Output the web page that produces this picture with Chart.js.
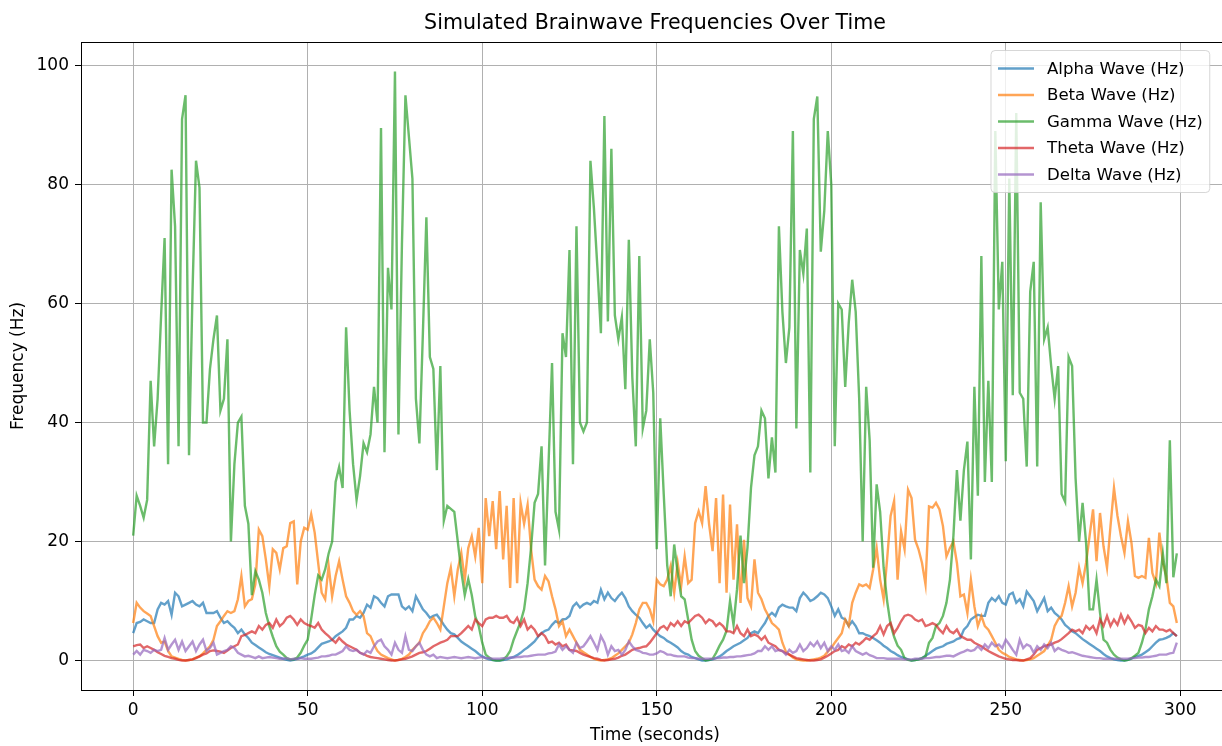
<!DOCTYPE html>
<html>
<head>
<meta charset="utf-8">
<title>Simulated Brainwave Frequencies Over Time</title>
<script src="https://cdn.jsdelivr.net/npm/chart.js@4.4.1/dist/chart.umd.min.js"></script>
<style>
  html, body { margin: 0; padding: 0; background: #fff; overflow: hidden; }
  #wrap { width: 1245px; height: 746px; }
</style>
</head>
<body>
<div id="wrap"><canvas id="brainChart" width="1245" height="746"></canvas></div>
<script>
"use strict";

// tick labels
const xTicks = [0, 50, 100, 150, 200, 250, 300];
const yTicks = [0, 20, 40, 60, 80, 100];

// värden, en punkt per sekund (0-299)
const alpha = [
  4.6, 6.3, 6.5, 6.9, 6.6, 6.3, 6.3, 8.6, 9.7, 9.4,
  10, 7.7, 11.4, 10.8, 9.1, 9.4, 9.7, 10, 9.4, 9.1,
  9.7, 8, 8, 8, 8.3, 7.2, 6.3, 6.6, 6, 5.5,
  4.6, 5.2, 4.4, 3.8, 3, 2.6, 2.2, 1.8, 1.4, 1.1,
  0.9, 0.7, 0.5, 0.3, 0.1, 0, 0.1, 0.3, 0.5, 0.7,
  1, 1.2, 1.6, 2.2, 2.8, 3, 3.2, 3.5, 4.1, 4.5,
  4.9, 5.5, 6.9, 6.9, 7.5, 7.2, 8, 9.4, 8.9, 10.8,
  10.5, 9.7, 9.1, 10.8, 11.1, 11.1, 11.1, 9.1, 8.6, 9.1,
  8.3, 10.8, 9.7, 8.6, 8, 7.2, 7.5, 7.7, 6.9, 6,
  5.2, 4.6, 4.4, 3.8, 3.2, 2.8, 2.4, 2, 1.6, 1.1,
  0.7, 0.4, 0.2, 0.1, 0, 0, 0.1, 0.2, 0.4, 0.6,
  0.9, 1.3, 1.8, 2.2, 2.7, 3.2, 4, 4.6, 5, 5.2,
  6, 6.6, 6.3, 6.9, 7, 7.5, 9.1, 9.7, 8.9, 9.4,
  9.7, 9.4, 10, 9.7, 11.9, 10.3, 11.4, 10.5, 10, 10.8,
  11.4, 10.5, 9.1, 8.3, 7.7, 7.2, 6.3, 5.5, 6, 5.2,
  4.6, 4.1, 3.8, 3.3, 3, 2.6, 2.2, 1.6, 1.2, 1,
  0.6, 0.4, 0.2, 0, 0, 0.1, 0.2, 0.4, 0.7, 1.1,
  1.6, 2, 2.4, 2.7, 3, 3.4, 3.8, 4.6, 4.9, 4.6,
  5.5, 6.3, 7.5, 8, 7.5, 8.9, 9.4, 9.1, 8.9, 8.9,
  8.3, 10.5, 11.4, 10.8, 10, 10.3, 10.8, 11.4, 11.1, 10.5,
  9.1, 7.5, 8.6, 7.2, 6.9, 5.8, 6.6, 5.8, 4.6, 4.6,
  4.3, 4.1, 3.8, 3.4, 3, 2.5, 2.1, 1.6, 1.3, 0.9,
  0.6, 0.4, 0.2, 0, 0.1, 0.2, 0.4, 0.8, 1.2, 1.6,
  2, 2.2, 2.4, 2.8, 3, 3.2, 3.6, 3.8, 5.2, 5.8,
  6.9, 7.3, 7.7, 7.5, 7.5, 9.7, 10.5, 10, 10.8, 9.7,
  9.4, 11.1, 11.4, 9.7, 10.3, 9.1, 11.6, 10.8, 10, 8.3,
  9.4, 10.5, 8.3, 8.9, 8, 7.5, 6.9, 6, 5.5, 4.9,
  4.6, 4.1, 3.6, 3.2, 2.8, 2.4, 2, 1.6, 1.1, 0.7,
  0.4, 0.2, 0.1, 0, 0, 0.1, 0.3, 0.6, 0.8, 1,
  1.4, 1.8, 2.4, 3, 3.5, 3.6, 3.8, 4.1, 4.6, 4.1
];

const beta = [
  6.3, 9.7, 8.9, 8.3, 7.9, 7.5, 5.8, 4.1, 3, 3.2,
  1.6, 0.7, 0.5, 0.3, 0.1, 0, 0.1, 0.2, 0.5, 0.7,
  1.2, 1.8, 2.4, 3.5, 5.8, 6.6, 7.5, 8.3, 8, 8.3,
  10.3, 14.2, 9.1, 10, 10.3, 12.8, 22, 20.9, 17, 12.5,
  18.7, 18.1, 15.3, 18.9, 19.2, 23.1, 23.4, 12.8, 20, 22.3,
  22, 24.6, 21.5, 16.4, 11.4, 10.3, 15.9, 10.8, 14.2, 16.7,
  13.6, 10.8, 9.7, 8.3, 7.7, 8.3, 7.5, 4.6, 4.1, 2.7,
  1.6, 1, 0.7, 0.4, 0.2, 0, 0.1, 0.3, 0.6, 1,
  1.8, 2.4, 3, 4.6, 5.5, 6.6, 7.2, 6.3, 5.2, 9.1,
  13, 15.6, 10.8, 15.3, 18.1, 13.6, 18.9, 20.9, 17.5, 22.3,
  13, 27.3, 20.9, 26.8, 18.7, 28.5, 17, 26, 12.2, 27.3,
  13, 26.5, 23, 26.2, 18.7, 13.6, 12.5, 11.9, 14.2, 13.3,
  10.8, 8.6, 5.8, 6.6, 4.1, 5.2, 4.1, 3, 1.8, 1.4,
  1, 0.6, 0.3, 0.1, 0, 0.1, 0.2, 0.4, 0.8, 1.2,
  1.8, 2.4, 3, 4.4, 6.3, 8.6, 9.7, 9.7, 8.6, 6.6,
  13.6, 12.8, 12.5, 13.6, 15.9, 11.4, 16.4, 12.5, 17.5, 13,
  13.6, 23.1, 25.1, 23.1, 29.3, 22.9, 18.4, 27.3, 13, 27.9,
  11.4, 26.2, 13.6, 22.9, 9.7, 20.3, 10.5, 9.1, 17, 11.4,
  10.3, 8.6, 7.5, 6.3, 5.8, 5.2, 3, 1.5, 1, 0.5,
  0.2, 0.1, 0, 0, 0.1, 0.2, 0.3, 0.5, 0.8, 1.5,
  2.1, 3, 3.8, 4.6, 6.9, 5.8, 9.7, 11.4, 12.8, 12.5,
  12.8, 12.2, 15.3, 18.9, 13.6, 10.3, 17, 24.3, 26.8, 13.6,
  21.7, 18.7, 28.7, 27.3, 20.3, 18.7, 16.4, 12.8, 25.9, 25.7,
  26.5, 25.4, 22.6, 17.5, 18.9, 20, 16.4, 10.8, 11.1, 8,
  13.6, 9.1, 5.8, 7.5, 5.8, 5.2, 4.1, 3, 1.8, 1.3,
  1, 0.6, 0.4, 0.2, 0.1, 0, 0.1, 0.2, 0.4, 0.8,
  1.2, 1.6, 2.5, 3.5, 5.8, 6.9, 7.5, 9.7, 12.5, 9.1,
  11.4, 15.6, 13, 16.4, 20.9, 25.4, 16.7, 24.8, 19.2, 15.6,
  22.6, 29, 24.3, 20.9, 18.1, 23.4, 19.8, 14.2, 13.9, 14.2,
  13.9, 20.6, 14.7, 13, 21.5, 16.4, 14.2, 9.7, 9.1, 6.3
];

const gamma = [
  21, 27.7, 26, 24, 27, 47, 36, 44, 58, 71,
  33, 82.5, 73, 36, 91, 95, 34.5, 62, 84, 79.5,
  40, 40, 49, 54, 58, 42, 44, 54, 20, 33,
  40, 41, 26, 23, 11, 15, 13.6, 11.4, 8, 5.8,
  4, 2.4, 1.5, 1, 0.4, 0.2, 0.2, 0.5, 1.3, 2.5,
  3.5, 7, 11, 14.3, 13.6, 15.3, 18, 20, 30, 32.5,
  29, 56, 42, 33, 27, 31, 36.5, 35, 38, 46,
  40, 89.5, 35, 66, 59, 99, 38, 70, 95, 88,
  81, 44, 36.5, 55, 74.5, 51, 49, 32, 49.5, 23.5,
  26, 25.5, 25, 20, 15, 11, 13.7, 11, 7.4, 5.8,
  3, 1, 0.5, 0.1, 0, 0, 0.2, 0.7, 1.6, 3.5,
  5, 6.5, 8.6, 13, 19, 26.5, 28, 36, 16, 33,
  50, 25, 22, 55, 51, 69, 33, 73, 40, 38.5,
  40, 84, 76, 66, 55, 91.5, 57, 86, 58, 54,
  57.7, 45.6, 70.7, 47.6, 36, 68, 39, 42, 54, 45,
  18.7, 40.7, 28, 16, 10.8, 19.5, 14.7, 10.8, 10.3, 6.9,
  3.5, 1.6, 0.8, 0.4, 0, 0.1, 0.3, 1.3, 2.5, 3.5,
  5, 10, 6, 12, 21, 13, 19, 29, 34.5, 36,
  42, 40.7, 30.6, 37.5, 31.6, 73, 58.6, 50, 56, 89,
  39, 69, 65, 72.6, 31.6, 91, 94.8, 68.7, 75.6, 89,
  80, 36, 60, 59, 46, 56.7, 64, 58.6, 44, 20,
  46, 37, 15.6, 29.6, 25, 15.6, 10, 6, 4, 2.5,
  1.8, 0.4, 0.1, 0, 0.1, 0.2, 0.4, 0.7, 3, 3.8,
  5.8, 6.3, 7.5, 9.7, 13.6, 21, 32, 23.5, 32, 36.8,
  17, 46, 27.7, 68, 30, 47, 30, 89, 59, 67,
  33.5, 81, 44.6, 92, 45, 44, 32.6, 62, 67, 32.6,
  77, 54, 56, 49.5, 44, 49.5, 28, 26.7, 51, 49.5,
  30.6, 20, 26.5, 19.8, 8.6, 8.6, 13.6, 8, 3.5, 3,
  1.8, 1, 0.5, 0.2, 0, 0.1, 0.4, 0.8, 1.3, 3,
  5.2, 8.6, 10.8, 13.6, 12.5, 18, 13, 37, 14, 18
];

const theta = [
  2.4, 2.6, 2.7, 2.1, 2.4, 2.1, 1.8, 1.4, 1.1, 0.8,
  0.6, 0.4, 0.3, 0.1, 0, 0, 0.1, 0.2, 0.4, 0.7,
  1, 1.2, 1.6, 1.7, 1.6, 1.5, 1.3, 1.7, 2.1, 2.4,
  2.7, 4.1, 4.3, 4.6, 4.9, 4.6, 5.8, 5.2, 6, 6.3,
  5.5, 6.9, 5.8, 6.3, 7.2, 7.5, 6.9, 6, 6.9, 6.3,
  6, 5.8, 5.5, 6.3, 5.2, 4.6, 4.1, 3.5, 3, 3.8,
  3.2, 2.7, 2.4, 2.1, 1.8, 1.3, 1.1, 0.8, 0.6, 0.5,
  0.4, 0.3, 0.2, 0.1, 0, 0, 0.1, 0.2, 0.3, 0.5,
  0.7, 1, 1.3, 1.4, 1.6, 2, 2.4, 2.7, 3, 3.2,
  3.5, 4.1, 4.1, 4.1, 4.6, 5.2, 5.8, 5.2, 6.9, 6.3,
  5.8, 6.9, 7.2, 7.2, 7.5, 7.2, 7.2, 7.5, 6.6, 6.3,
  7.2, 5.8, 6.9, 5.2, 5.8, 5.2, 4.1, 4.6, 4.1, 3,
  3.2, 2.7, 3, 2.4, 2.7, 1.8, 1.7, 1.6, 1.3, 1,
  0.8, 0.6, 0.4, 0.3, 0.1, 0, 0.1, 0.2, 0.3, 0.5,
  0.8, 1, 1.4, 1.8, 2, 2.1, 2.3, 2.4, 3, 3.8,
  4.6, 5.5, 5.8, 5.2, 6.3, 5.8, 6.6, 5.8, 6.6, 6.3,
  6.9, 7.5, 7.7, 7.2, 6.3, 6.9, 6.6, 5.8, 6.3, 5.8,
  4.9, 4.9, 4.6, 5.8, 4.6, 4.1, 5.2, 4.1, 4.4, 4.1,
  3.5, 4.1, 3, 2.7, 2.4, 1.8, 1.6, 1.2, 1, 0.7,
  0.4, 0.3, 0.2, 0.1, 0, 0, 0.1, 0.2, 0.5, 0.8,
  1.2, 1.6, 1.8, 2.4, 2.1, 2.7, 2.4, 3, 2.7, 3.2,
  3.8, 3.5, 4.1, 4.6, 5.8, 4.4, 5.8, 6.3, 4.6, 5.5,
  6.6, 7.5, 7.7, 7.5, 6.9, 6.6, 6.9, 5.8, 6, 6.3,
  6, 5.2, 4.6, 5.8, 4.9, 4.6, 5.2, 4.1, 3.8, 3.5,
  3.5, 3, 2.7, 2.4, 2, 1.6, 1.3, 1, 0.7, 0.5,
  0.3, 0.2, 0.1, 0.1, 0, 0, 0.2, 0.4, 1, 1.8,
  2.1, 2.4, 2.6, 2.7, 3, 3.2, 3.6, 4.1, 4.6, 5.2,
  4.9, 5.2, 4.6, 5.8, 5.2, 5.8, 4.6, 6.9, 5.8, 7.5,
  5.8, 6.9, 6, 7.7, 6.3, 7.5, 6.6, 5.5, 6, 5.8,
  4.6, 5.5, 4.9, 5.8, 5.2, 5.2, 4.9, 5.2, 4.6, 4.1
];

const delta = [
  1, 1.6, 1, 1.8, 1.6, 1.3, 1.8, 1.6, 1.8, 3.8,
  1.8, 2.7, 3.5, 1.8, 3.2, 1.6, 2.4, 3.2, 1.6, 2.7,
  3.5, 1.6, 2.1, 3, 1, 1.3, 1.6, 1.8, 2.4, 2.1,
  1.3, 1, 0.7, 0.8, 0.6, 0.4, 0.7, 0.4, 0.5, 0.6,
  0.5, 0.4, 0.3, 0.3, 0.4, 0.2, 0.3, 0.3, 0.4, 0.3,
  0.3, 0.3, 0.4, 0.5, 0.7, 0.7, 0.8, 1, 1, 1.3,
  1.6, 2.4, 1.8, 1.6, 1.8, 1.3, 1, 1.6, 1.3, 2.4,
  3.2, 3.5, 2.4, 1.8, 1, 3, 1.8, 1.3, 4.1, 1.8,
  1.6, 2.4, 3, 1.8, 1, 0.7, 1, 0.4, 0.6, 0.5,
  0.4, 0.5, 0.6, 0.5, 0.4, 0.5, 0.6, 0.5, 0.4, 0.5,
  0.6, 0.4, 0.4, 0.3, 0.3, 0.3, 0.4, 0.4, 0.5, 0.5,
  0.6, 0.6, 0.7, 0.7, 0.8, 0.9, 1, 1, 1, 1.2,
  1.3, 1.5, 2.7, 1.8, 2.4, 1.8, 1.3, 3, 2.1, 2.4,
  3.2, 4.1, 3, 1.8, 4.1, 3, 1, 2.4, 1.6, 1.8,
  1, 1.8, 3.2, 2.4, 1.8, 1.6, 1.3, 1.2, 1, 1,
  1.2, 1.6, 1.4, 1, 1, 0.8, 0.7, 0.7, 0.7, 0.5,
  0.4, 0.4, 0.3, 0.3, 0.3, 0.3, 0.3, 0.4, 0.4, 0.5,
  0.5, 0.6, 0.6, 0.7, 0.7, 0.8, 0.9, 1, 1.2, 1.6,
  1.6, 2.4, 1.8, 2.4, 1.6, 1.8, 1.6, 1, 1.8, 1.3,
  1.6, 2.7, 1.6, 2.1, 3, 2.4, 3.2, 2.1, 3, 1.6,
  2.4, 1.8, 2.7, 1.6, 1.8, 1.3, 2.4, 1.6, 1.3, 1,
  1.3, 0.9, 0.7, 0.4, 0.4, 0.4, 0.3, 0.3, 0.3, 0.3,
  0.3, 0.2, 0.2, 0.2, 0.3, 0.3, 0.3, 0.4, 0.4, 0.5,
  0.6, 0.6, 0.7, 0.8, 0.8, 0.7, 1, 1.3, 1.5, 1.8,
  1.6, 1.8, 2.4, 1.8, 2.7, 2.1, 3, 2.4, 2.7, 2.1,
  3.5, 2.7, 1.8, 1, 3.5, 2.1, 2.7, 2.4, 1.3, 2.4,
  1.8, 2.7, 2.1, 3, 1.6, 2.1, 1.8, 1.6, 1.3, 1.4,
  1.2, 1, 0.8, 0.7, 0.6, 0.5, 0.4, 0.4, 0.3, 0.3,
  0.3, 0.3, 0.3, 0.3, 0.3, 0.3, 0.4, 0.4, 0.5, 0.5,
  0.6, 0.6, 0.7, 0.8, 1, 1, 1, 1.2, 1.3, 3
];

// tid i sekunder, en punkt per värde
const time = alpha.map((v, i) => i);

const seriesNames = ['Alpha Wave (Hz)', 'Beta Wave (Hz)', 'Gamma Wave (Hz)', 'Theta Wave (Hz)', 'Delta Wave (Hz)'];
const seriesColors = [
  'rgba(31, 119, 180, 0.7)',
  'rgba(255, 127, 14, 0.7)',
  'rgba(44, 160, 44, 0.7)',
  'rgba(214, 39, 40, 0.7)',
  'rgba(148, 103, 189, 0.7)'
];
const seriesData = [alpha, beta, gamma, theta, delta];

const FONT = "'DejaVu Sans', sans-serif";
Chart.defaults.font.family = FONT;
Chart.defaults.color = '#000';

// ram runt diagrammet + legend inne i ritytan
const frameAndLegend = {
  id: 'frameAndLegend',
  afterDatasetsDraw(chart) {
    const { ctx, chartArea: a } = chart;
    ctx.save();
    ctx.strokeStyle = '#000';
    ctx.lineWidth = 1;
    ctx.strokeRect(Math.round(a.left) + 0.5, Math.round(a.top) + 0.5,
      Math.round(a.right - a.left), Math.round(a.bottom - a.top));

    const fs = 16.6;
    ctx.font = fs + 'px ' + FONT;
    const names = chart.data.datasets.map(d => d.label);
    const textW = Math.max(...names.map(n => ctx.measureText(n).width));
    const pad = 7, handle = 36, gap = 13, rowH = 26.5;
    const w = pad * 2 + handle + gap + textW;
    const h = 36 + rowH * (names.length - 1);
    const x0 = 991;
    const y0 = a.top + 8.5;

    ctx.fillStyle = 'rgba(255, 255, 255, 0.8)';
    ctx.strokeStyle = 'rgba(204, 204, 204, 0.8)';
    ctx.beginPath();
    ctx.roundRect(x0, y0, w, h, 4);
    ctx.fill();
    ctx.stroke();

    ctx.textBaseline = 'middle';
    ctx.textAlign = 'left';
    names.forEach((n, i) => {
      const cy = y0 + 18 + i * rowH;
      ctx.strokeStyle = chart.data.datasets[i].borderColor;
      ctx.lineWidth = 2.4;
      ctx.beginPath();
      ctx.moveTo(x0 + pad, cy);
      ctx.lineTo(x0 + pad + handle, cy);
      ctx.stroke();
      ctx.fillStyle = '#000';
      ctx.fillText(n, x0 + pad + handle + gap, cy + 1);
    });
    ctx.restore();
  }
};

const gridOpts = { color: '#b0b0b0', lineWidth: 1, tickColor: '#000', tickLength: 6, drawTicks: true };

new Chart(document.getElementById('brainChart'), {
  type: 'line',
  data: {
    labels: time,
    datasets: seriesNames.map((name, i) => ({
      label: name,
      data: seriesData[i],
      borderColor: seriesColors[i],
      backgroundColor: seriesColors[i],
      borderWidth: 2.4,
      pointRadius: 0,
      tension: 0,
      fill: false,
      order: seriesNames.length - i
    }))
  },
  options: {
    responsive: false,
    animation: false,
    events: [],
    layout: { padding: { left: 0, right: 16, top: 0, bottom: 0 } },
    plugins: {
      legend: { display: false },
      tooltip: { enabled: false },
      title: {
        display: true,
        text: 'Simulated Brainwave Frequencies Over Time',
        fullSize: false,
        color: '#000',
        font: { size: 20.6, weight: 'normal' },
        padding: { top: 11.6, bottom: 5.7 }
      }
    },
    scales: {
      x: {
        type: 'linear',
        min: -14.95,
        max: 313.95,
        afterBuildTicks: s => { s.ticks = xTicks.map(v => ({ value: v })); },
        afterFit: s => { s.height = 56; },
        grid: gridOpts,
        border: { display: false },
        ticks: { font: { size: 17 }, color: '#000', padding: 4, maxRotation: 0, autoSkip: false },
        title: { display: true, text: 'Time (seconds)', color: '#000', font: { size: 17 }, padding: { top: 0, bottom: 0 } }
      },
      y: {
        type: 'linear',
        min: -4.95,
        max: 103.95,
        afterBuildTicks: s => { s.ticks = yTicks.map(v => ({ value: v })); },
        afterFit: s => { s.width = 81; },
        grid: gridOpts,
        border: { display: false },
        ticks: { font: { size: 17 }, color: '#000', padding: 6, autoSkip: false },
        title: { display: true, text: 'Frequency (Hz)', color: '#000', font: { size: 17 }, padding: { top: 8, bottom: 0 } }
      }
    }
  },
  plugins: [frameAndLegend]
});
</script>
</body>
</html>
